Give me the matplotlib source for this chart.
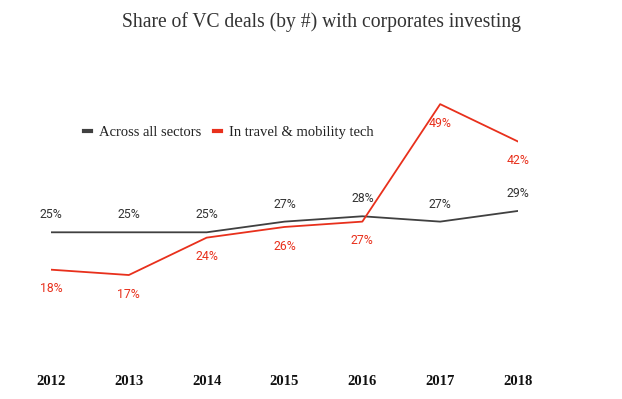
import matplotlib
matplotlib.use("Agg")
import matplotlib.pyplot as plt
from matplotlib.lines import Line2D

years = ["2012", "2013", "2014", "2015", "2016", "2017", "2018"]
all_sectors = [25, 25, 25, 27, 28, 27, 29]
travel = [18, 17, 24, 26, 27, 49, 42]
series_names = ["Across all sectors", "In travel & mobility tech"]

dark = "#404040"
red = "#e8301c"
serif = "Liberation Serif"

fig = plt.figure(figsize=(6.22, 3.99), dpi=100)
ax = fig.add_axes([51/622, 1-365.8/399, 467/622, 267/399])
x = list(range(len(years)))
ax.plot(x, all_sectors, color=dark, lw=1.3, zorder=3)
ax.plot(x, travel, color=red, lw=1.3, zorder=3)
ax.set_xlim(0, 6)
ax.set_ylim(0, 50)
ax.axis("off")

for xi, v in zip(x, all_sectors):
    ax.annotate(f"{v}%", (xi, v), xytext=(0, 12.5), textcoords="offset points",
                ha="center", va="center", fontsize=8.8, family="Roboto", color="#333333")
for xi, v in zip(x, travel):
    ax.annotate(f"{v}%", (xi, v), xytext=(0, -13.8), textcoords="offset points",
                ha="center", va="center", fontsize=8.8, family="Roboto", color=red)

for xi, y in zip(x, years):
    ax.annotate(y, (xi, 0), xytext=(0, -11.5), textcoords="offset points",
                ha="center", va="center", fontsize=10.5, family=serif,
                weight="bold", color="#111111")

fig.text(322/622, 1-22/399, "Share of VC deals (by #) with corporates investing",
         ha="center", va="center", fontsize=14.1, family=serif, color="#333333")

handles = [Line2D([], [], color=dark, lw=3), Line2D([], [], color=red, lw=3)]
fig.legend(handles, series_names, loc="center left", bbox_to_anchor=(71/622, 1-132/399),
           frameon=False, ncol=2, handlelength=0.5, handletextpad=0.5, columnspacing=0.9,
           prop={"family": serif, "size": 10.5}, labelcolor="#222222")

fig.savefig("out.png", dpi=100, facecolor="white")
